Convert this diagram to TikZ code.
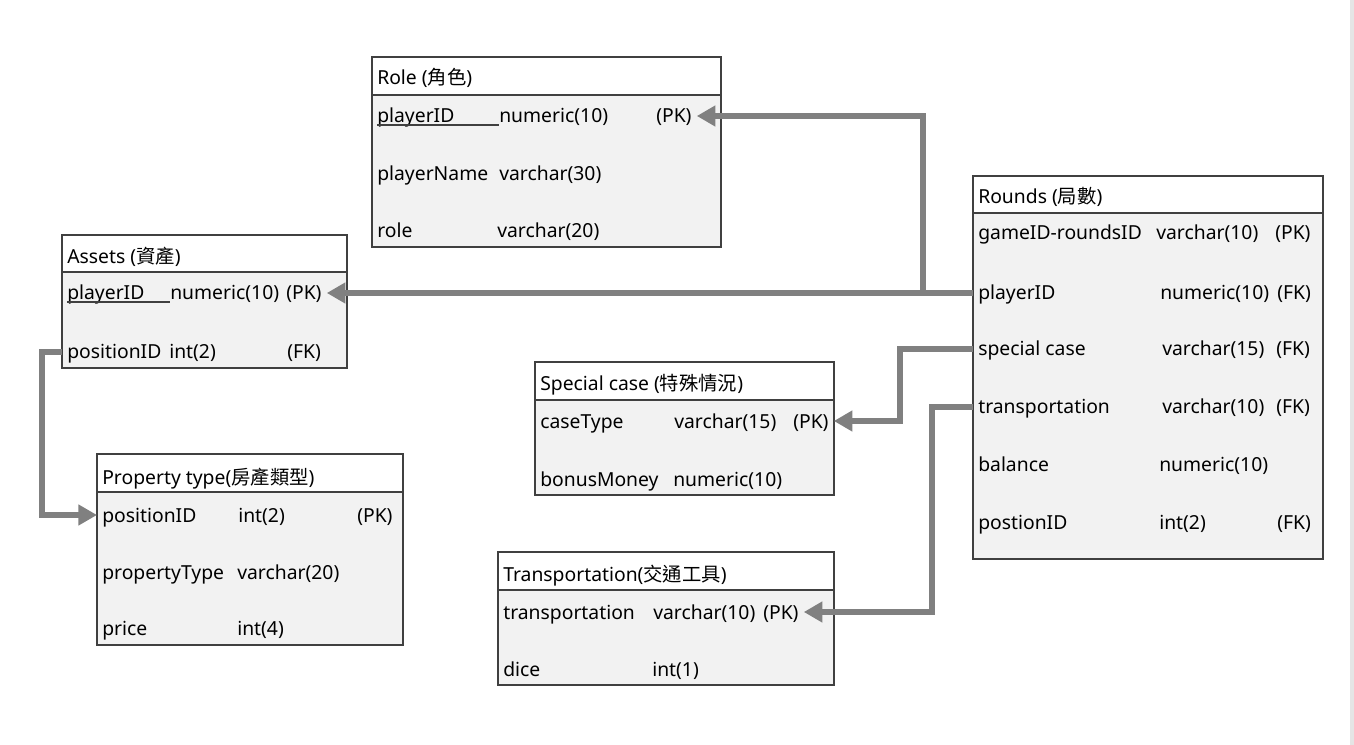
\documentclass[tikz,border=0pt]{standalone}
\usepackage{fontspec}
\setmainfont{Noto Sans}
\newfontfamily\cjk{Noto Sans CJK TC}
\usetikzlibrary{arrows.meta}
\definecolor{rowfill}{HTML}{F2F2F2}
\definecolor{linkgray}{HTML}{808080}
\definecolor{edgegray}{HTML}{404040}
\tikzstyle{fk} = [line width=4.4pt, draw=linkgray, -{Triangle[length=14pt, width=15pt]}]
\tikzstyle{tbody} = [draw=edgegray, line width=0.9pt, fill=rowfill]
\tikzstyle{thead} = [draw=edgegray, line width=0.9pt, fill=white]
\tikzstyle{uline} = [draw=edgegray, line width=0.9pt]
\tikzstyle{cell} = [anchor=west, inner xsep=3.75pt, inner ysep=0pt, text height=14pt, text depth=3.5pt,
                    font=\fontsize{14.5pt}{18pt}\selectfont]

\begin{document}
\begin{tikzpicture}[x=0.75pt, y=-0.75pt]
    \useasboundingbox (0,0) rectangle (1354,745);
    \fill[gray!20] (1350,0) rectangle (1354,745);

    % Role table
    \draw[tbody] (372,57) rectangle (721,247);
    \draw[thead] (372,57) rectangle (721,95);
    \node[cell] (role) at (372,78) {Role ({\cjk 角色})};
    \node[cell] (rolepid) at (372,116) {playerID};
    \node[cell] (rolepidt) at (494,116) {numeric(10)};
    \node[cell] (rolepk) at (651,116) {(PK)};
    \node[cell] (rolename) at (372,174) {playerName};
    \node[cell] (rolenamet) at (494,174) {varchar(30)};
    \node[cell] (rolerole) at (372,231) {role};
    \node[cell] (roleroled) at (492,231) {varchar(20)};
    \draw[uline] (377,125) -- (499,125);

    % Assets table
    \draw[tbody] (62,235) rectangle (347,368);
    \draw[thead] (62,235) rectangle (347,272);
    \node[cell] (assets) at (62,257) {Assets ({\cjk 資產})};
    \node[cell] (apid) at (62,293) {playerID};
    \node[cell] (apidt) at (165,293) {numeric(10)};
    \node[cell] (apk) at (281,293) {(PK)};
    \node[cell] (apos) at (62,352) {positionID};
    \node[cell] (apost) at (164,352) {int(2)};
    \node[cell] (afk) at (282,352) {(FK)};
    \draw[uline] (67,302) -- (170,302);

    % Rounds table
    \draw[tbody] (973,176) rectangle (1323,559);
    \draw[thead] (973,176) rectangle (1323,213);
    \node[cell] (rounds) at (973,197) {Rounds ({\cjk 局數})};
    \node[cell] (rid) at (973,233) {gameID-roundsID};
    \node[cell] (ridt) at (1151,233) {varchar(10)};
    \node[cell] (rpk) at (1270,233) {(PK)};
    \node[cell] (rpid) at (973,293) {playerID};
    \node[cell] (rpidt) at (1155,293) {numeric(10)};
    \node[cell] (rpidk) at (1272,293) {(FK)};
    \node[cell] (rspec) at (973,349) {special case};
    \node[cell] (rspect) at (1157,349) {varchar(15)};
    \node[cell] (rspeck) at (1271,349) {(FK)};
    \node[cell] (rtrans) at (973,407) {transportation};
    \node[cell] (rtranst) at (1157,407) {varchar(10)};
    \node[cell] (rtransk) at (1271,407) {(FK)};
    \node[cell] (rbal) at (973,464) {balance};
    \node[cell] (rbalt) at (1154,464) {numeric(10)};
    \node[cell] (rpos) at (973,522) {postionID};
    \node[cell] (rpost) at (1154,522) {int(2)};
    \node[cell] (rposk) at (1272,522) {(FK)};

    % Special case table
    \draw[tbody] (535,362) rectangle (834,495);
    \draw[thead] (535,362) rectangle (834,400);
    \node[cell] (special) at (535,384) {Special case ({\cjk 特殊情況})};
    \node[cell] (sctype) at (535,421) {caseType};
    \node[cell] (sctypet) at (669,421) {varchar(15)};
    \node[cell] (scpk) at (788,421) {(PK)};
    \node[cell] (scbonus) at (535,479) {bonusMoney};
    \node[cell] (scbonust) at (668,479) {numeric(10)};

    % Transportation table
    \draw[tbody] (498,552) rectangle (834,685);
    \draw[thead] (498,552) rectangle (834,590);
    \node[cell] (transport) at (498,574) {Transportation({\cjk 交通工具})};
    \node[cell] (trname) at (498,612) {transportation};
    \node[cell] (trnamet) at (648,612) {varchar(10)};
    \node[cell] (trpk) at (758,612) {(PK)};
    \node[cell] (trdice) at (498,669) {dice};
    \node[cell] (trdicet) at (647,669) {int(1)};

    % Property type table
    \draw[tbody] (97,454) rectangle (403,645);
    \draw[thead] (97,454) rectangle (403,492);
    \node[cell] (property) at (97,477) {Property type({\cjk 房產類型})};
    \node[cell] (ppos) at (97,515) {positionID};
    \node[cell] (ppost) at (233,515) {int(2)};
    \node[cell] (ppk) at (352,515) {(PK)};
    \node[cell] (ptype) at (97,572) {propertyType};
    \node[cell] (ptypet) at (232,572) {varchar(20)};
    \node[cell] (pprice) at (97,628) {price};
    \node[cell] (ppricet) at (232,628) {int(4)};

    % Arrows
    \coordinate (split) at (923,293);
    \draw[fk] (rpid.west) -- (apk.east);
    \draw[fk] (split) |- (rolepk.east);
    \draw[fk] (rspec.west) -- ++(-73,0) |- (scpk.east);
    \draw[fk] (rtrans.west) -- ++(-41,0) |- (trpk.east);
    \draw[fk] (apos.west) -- ++(-20,0) |- (ppos.west);
\end{tikzpicture}
\end{document}
